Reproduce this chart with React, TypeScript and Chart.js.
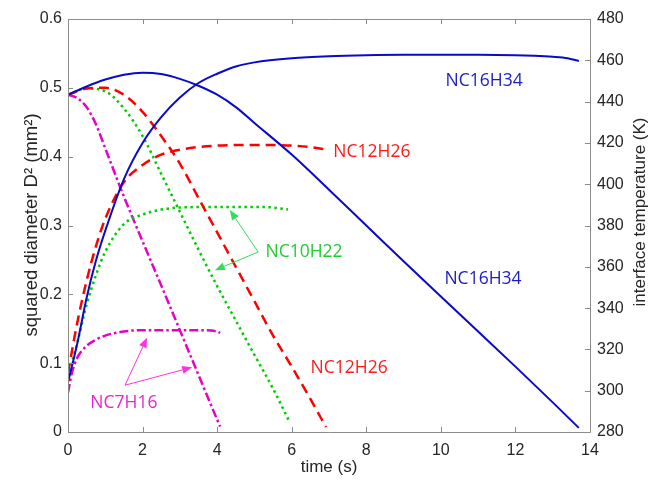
import React, { useEffect, useRef } from "react";
import { Chart, registerables } from "chart.js";
Chart.register(...registerables);

// ---- data ----
const c16DiamTime = [0, 0.5, 1, 1.5, 2, 2.5, 3, 3.5, 4, 4.5, 5, 6, 7, 8, 9, 10, 11, 12, 13, 13.7];
const c16Diam = [0.49, 0.502, 0.512, 0.519, 0.522, 0.52, 0.513, 0.503, 0.49, 0.472, 0.449, 0.403, 0.352, 0.3, 0.248, 0.197, 0.146, 0.095, 0.043, 0.006];
const c16TempTime = [0, 0.25, 0.5, 0.75, 1, 1.5, 2, 2.5, 3, 3.5, 4, 4.5, 5, 6, 7, 8, 9, 10, 11, 12, 12.5, 13, 13.4, 13.7];
const c16Temp = [304, 323, 345, 363, 377.5, 402.5, 420, 432.5, 442, 449, 453.5, 457, 459, 461, 462, 462.5, 462.7, 462.7, 462.7, 462.5, 462.2, 461.7, 461, 459.7];

const c12DiamTime = [0, 0.5, 1, 1.5, 2, 2.5, 3, 3.5, 4, 4.5, 5, 5.5, 6, 6.5, 6.92];
const c12Diam = [0.49, 0.499, 0.5, 0.49, 0.465, 0.43, 0.39, 0.34, 0.29, 0.24, 0.19, 0.14, 0.095, 0.048, 0.007];
const c12TempTime = [0, 0.25, 0.5, 0.75, 1, 1.5, 2, 2.5, 3, 3.5, 4, 5, 6, 6.5, 6.94];
const c12Temp = [308.7, 333, 353.3, 370, 383.3, 401, 409.3, 414.3, 416.7, 418, 418.7, 419, 418.7, 418, 416.7];

const c10DiamTime = [0, 0.5, 1, 1.5, 2, 2.5, 3, 3.5, 4, 4.5, 5, 5.5, 5.92];
const c10Diam = [0.49, 0.499, 0.495, 0.47, 0.43, 0.375, 0.32, 0.265, 0.212, 0.162, 0.112, 0.063, 0.017];
const c10TempTime = [0, 0.25, 0.5, 0.75, 1, 1.5, 2, 2.5, 3, 4, 5, 5.5, 5.9];
const c10Temp = [306.7, 323.3, 341.7, 356, 367.3, 380.7, 385.3, 387.7, 388.7, 389, 389, 388.7, 387.7];

const c7DiamTime = [0, 0.25, 0.5, 0.75, 1, 1.5, 2, 2.5, 3, 3.5, 4, 4.08];
const c7Diam = [0.49, 0.485, 0.472, 0.447, 0.412, 0.342, 0.277, 0.213, 0.148, 0.083, 0.018, 0.008];
const c7TempTime = [0, 0.1, 0.25, 0.5, 0.75, 1, 1.5, 2, 3, 3.5, 4, 4.08];
const c7Temp = [299, 308.3, 316, 321.7, 324.7, 326.7, 328.7, 329.3, 329.3, 329.3, 328.7, 328];

const xTickValues = [0, 2, 4, 6, 8, 10, 12, 14];
const leftTickValues = [0, 0.1, 0.2, 0.3, 0.4, 0.5, 0.6];
const rightTickValues = [280, 300, 320, 340, 360, 380, 400, 420, 440, 460, 480];

// annotations (data coordinates on time / diameter axes)
const labels = [
  { text: "NC16H34", x: 11.16, y: 0.51, color: "#1c1cc4" },
  { text: "NC16H34", x: 11.13, y: 0.222, color: "#1c1cc4" },
  { text: "NC12H26", x: 8.15, y: 0.407, color: "#ff1a1a" },
  { text: "NC12H26", x: 7.54, y: 0.093, color: "#ff1a1a" },
  { text: "NC10H22", x: 6.33, y: 0.2615, color: "#22cc33" },
  { text: "NC7H16", x: 1.5, y: 0.042, color: "#ee22cc" },
];
const arrows = [
  { from: [5.1, 0.2615], to: [4.34, 0.3225], color: "#33dd55" },
  { from: [5.1, 0.2615], to: [3.94, 0.235], color: "#33dd55" },
  { from: [1.53, 0.068], to: [2.12, 0.137], color: "#ff33dd" },
  { from: [1.53, 0.068], to: [3.33, 0.094], color: "#ff33dd" },
];

const BLUE = "#0a0ac8";
const RED = "#ff0000";
const GREEN = "#00cc00";
const MAGENTA = "#e600c8";
const AXIS = "#8c8c8c";
const TEXT = "#262626";
const FONT = "'Liberation Sans', Arial, sans-serif";

const pts = (xs: number[], ys: number[]) => xs.map((x, i) => ({ x, y: ys[i] }));

const framePlugin = {
  id: "frame",
  afterDraw(chart: any) {
    const { ctx, chartArea: a, scales } = chart;
    const sx = scales.x, sy = scales.y, sy1 = scales.y1;
    ctx.save();
    ctx.strokeStyle = AXIS;
    ctx.lineWidth = 1;
    ctx.beginPath();
    ctx.rect(Math.round(a.left) + 0.5, Math.round(a.top) + 0.5, Math.round(a.right - a.left), Math.round(a.bottom - a.top));
    ctx.stroke();
    const tl = 5;
    ctx.beginPath();
    xTickValues.forEach((v) => {
      const px = Math.round(sx.getPixelForValue(v)) + 0.5;
      ctx.moveTo(px, a.bottom);
      ctx.lineTo(px, a.bottom - tl);
      ctx.moveTo(px, a.top);
      ctx.lineTo(px, a.top + tl);
    });
    leftTickValues.forEach((v) => {
      const py = Math.round(sy.getPixelForValue(v)) + 0.5;
      ctx.moveTo(a.left, py);
      ctx.lineTo(a.left + tl, py);
    });
    rightTickValues.forEach((v) => {
      const py = Math.round(sy1.getPixelForValue(v)) + 0.5;
      ctx.moveTo(a.right, py);
      ctx.lineTo(a.right - tl, py);
    });
    ctx.stroke();

    // axis titles
    ctx.fillStyle = TEXT;
    ctx.textAlign = "center";
    ctx.textBaseline = "middle";
    ctx.font = `17px ${FONT}`;
    ctx.fillText("time (s)", (a.left + a.right) / 2, 467);
    ctx.save();
    ctx.translate(32, 225);
    ctx.rotate(-Math.PI / 2);
    ctx.font = `18.5px ${FONT}`;
    ctx.fillText("squared diameter D\u00B2 (mm\u00B2)", 0, 0);
    ctx.restore();
    ctx.save();
    ctx.translate(640, 212);
    ctx.rotate(-Math.PI / 2);
    ctx.font = `17px ${FONT}`;
    ctx.fillText("interface temperature (K)", 0, 0);
    ctx.restore();

    // arrows
    arrows.forEach((ar) => {
      const x0 = sx.getPixelForValue(ar.from[0]);
      const y0 = sy.getPixelForValue(ar.from[1]);
      const x1 = sx.getPixelForValue(ar.to[0]);
      const y1 = sy.getPixelForValue(ar.to[1]);
      const ang = Math.atan2(y1 - y0, x1 - x0);
      const hl = 10, hw = 4;
      ctx.strokeStyle = ar.color;
      ctx.fillStyle = ar.color;
      ctx.lineWidth = 1;
      ctx.beginPath();
      ctx.moveTo(x0, y0);
      ctx.lineTo(x1 - Math.cos(ang) * hl, y1 - Math.sin(ang) * hl);
      ctx.stroke();
      ctx.beginPath();
      ctx.moveTo(x1, y1);
      ctx.lineTo(x1 - Math.cos(ang) * hl - Math.sin(ang) * hw, y1 - Math.sin(ang) * hl + Math.cos(ang) * hw);
      ctx.lineTo(x1 - Math.cos(ang) * hl + Math.sin(ang) * hw, y1 - Math.sin(ang) * hl - Math.cos(ang) * hw);
      ctx.closePath();
      ctx.fill();
    });

    // labels
    ctx.font = `17.5px 'Open Sans', sans-serif`;
    ctx.textAlign = "center";
    ctx.textBaseline = "middle";
    labels.forEach((l) => {
      ctx.fillStyle = l.color;
      ctx.fillText(l.text, sx.getPixelForValue(l.x), sy.getPixelForValue(l.y));
    });
    ctx.restore();
  },
};

export default function App() {
  const ref = useRef<HTMLCanvasElement | null>(null);
  useEffect(() => {
    document.body.style.margin = "0";
    const canvas = ref.current;
    if (!canvas) return;
    const base = { pointRadius: 0, fill: false, cubicInterpolationMode: "monotone" as const };
    const grid = { display: false, drawTicks: false, tickLength: 0 };
    const tickFont = { family: FONT, size: 16 };
    const chart = new Chart(canvas, {
      type: "line",
      data: {
        datasets: [
          { ...base, data: pts(c16TempTime, c16Temp), yAxisID: "y1", borderColor: BLUE, borderWidth: 2 },
          { ...base, data: pts(c16DiamTime, c16Diam), yAxisID: "y", borderColor: BLUE, borderWidth: 2 },
          { ...base, data: pts(c12TempTime, c12Temp), yAxisID: "y1", borderColor: RED, borderWidth: 2.5, borderDash: [10, 6] },
          { ...base, data: pts(c12DiamTime, c12Diam), yAxisID: "y", borderColor: RED, borderWidth: 2.5, borderDash: [10, 6] },
          { ...base, data: pts(c10TempTime, c10Temp), yAxisID: "y1", borderColor: GREEN, borderWidth: 2.5, borderDash: [2.5, 3.5] },
          { ...base, data: pts(c10DiamTime, c10Diam), yAxisID: "y", borderColor: GREEN, borderWidth: 2.5, borderDash: [2.5, 3.5] },
          { ...base, data: pts(c7TempTime, c7Temp), yAxisID: "y1", borderColor: MAGENTA, borderWidth: 2.5, borderDash: [9, 3, 2.5, 3] },
          { ...base, data: pts(c7DiamTime, c7Diam), yAxisID: "y", borderColor: MAGENTA, borderWidth: 2.5, borderDash: [9, 3, 2.5, 3] },
        ],
      },
      options: {
        responsive: false,
        animation: false,
        layout: { padding: { top: 19, left: 0, right: 0, bottom: 0 } },
        plugins: { legend: { display: false }, tooltip: { enabled: false } },
        scales: {
          x: {
            type: "linear",
            min: 0,
            max: 14,
            grid,
            border: { display: false },
            ticks: { stepSize: 2, padding: 9, color: TEXT, font: tickFont },
            afterFit: (s: any) => { s.height = 49; },
          },
          y: {
            type: "linear",
            position: "left",
            min: 0,
            max: 0.6,
            grid,
            border: { display: false },
            ticks: { stepSize: 0.1, padding: 6, color: TEXT, font: tickFont },
            afterFit: (s: any) => { s.width = 68; },
          },
          y1: {
            type: "linear",
            position: "right",
            min: 280,
            max: 480,
            grid,
            border: { display: false },
            ticks: { stepSize: 20, padding: 7, color: TEXT, font: tickFont },
            afterFit: (s: any) => { s.width = 64; },
          },
        },
      },
      plugins: [framePlugin],
    });
    return () => chart.destroy();
  }, []);
  return (
    <div style={{ width: 654, height: 481, background: "#fff" }}>
      <canvas ref={ref} width={654} height={481} />
    </div>
  );
}
